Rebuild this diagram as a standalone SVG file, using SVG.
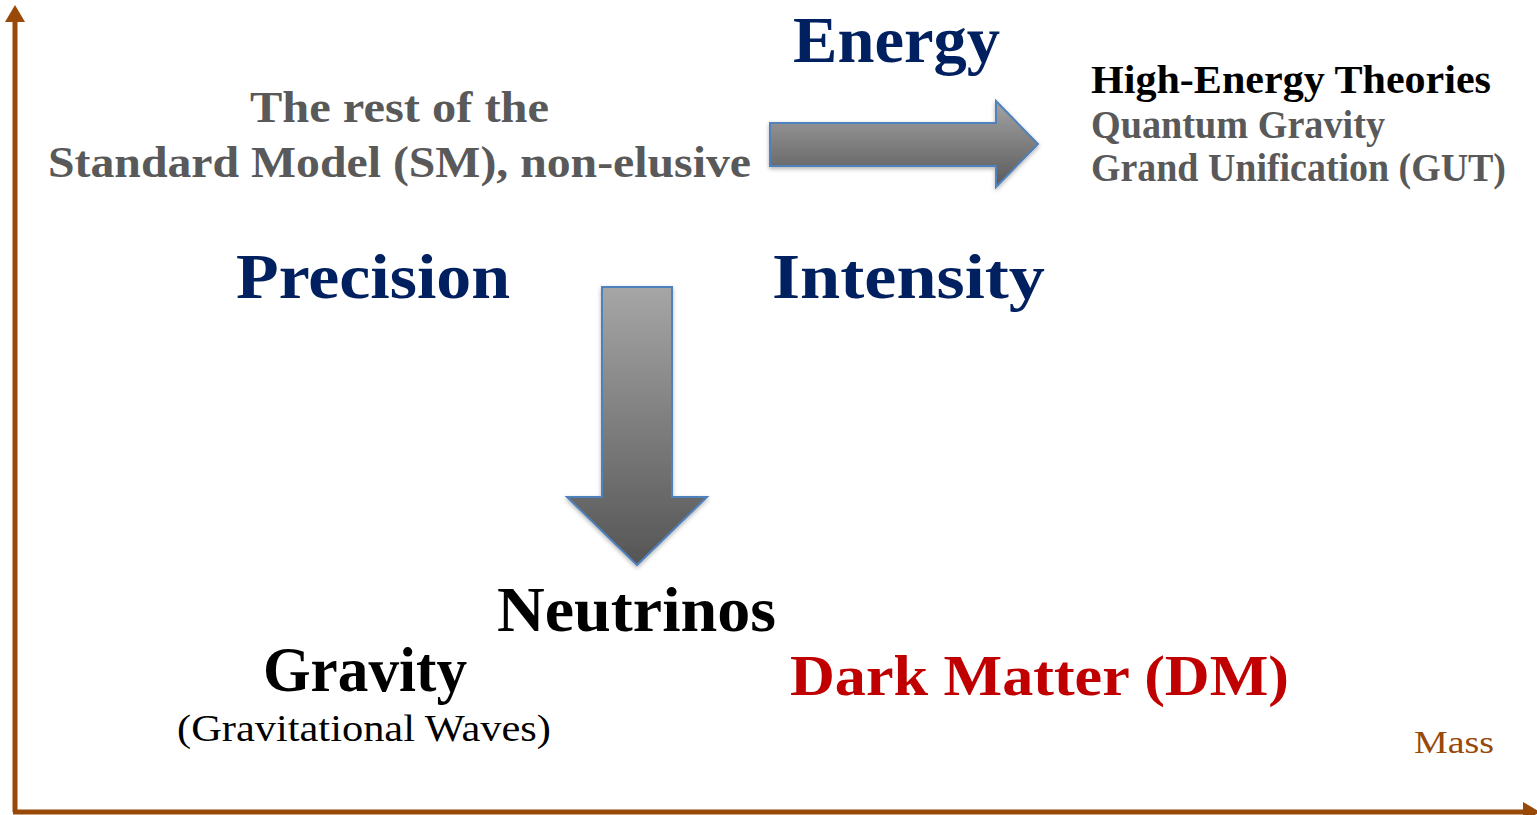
<svg xmlns="http://www.w3.org/2000/svg" width="1537" height="815" viewBox="0 0 1537 815">
  <style>
    .b { font-family: "Liberation Serif", "Times New Roman", serif; font-weight: bold; }
    .r { font-family: "Liberation Serif", "Times New Roman", serif; font-weight: normal; }
    .navy { fill: #002060; }
    .gray { fill: #595959; }
    .blk { fill: #000000; }
    .red { fill: #c00000; }
    .brown { fill: #984807; }
    .axis { stroke: #984807; stroke-width: 5; fill: none; }
    .bigarrow { stroke: #4f81bd; stroke-width: 2; filter: url(#shadow); }
  </style>
  <defs>
    <linearGradient id="gradR" x1="0" y1="0" x2="0" y2="1">
      <stop offset="0" stop-color="#a3a3a3"/>
      <stop offset="1" stop-color="#5a5a5a"/>
    </linearGradient>
    <linearGradient id="gradD" x1="0" y1="0" x2="0" y2="1">
      <stop offset="0" stop-color="#a6a6a6"/>
      <stop offset="1" stop-color="#555555"/>
    </linearGradient>
    <filter id="shadow" x="-20%" y="-20%" width="140%" height="140%">
      <feDropShadow dx="0" dy="2" stdDeviation="2" flood-color="#000" flood-opacity="0.3"/>
    </filter>
    <marker id="axhead" markerWidth="4" markerHeight="4" refX="0" refY="2" orient="auto" markerUnits="strokeWidth">
      <path d="M0,0 L3.4,2 L0,4 Z" fill="#984807"/>
    </marker>
  </defs>

  <g id="connectors">
    <line id="y-axis" class="axis" x1="15" y1="812" x2="15" y2="22" marker-end="url(#axhead)"/>
    <line id="x-axis" class="axis" x1="13" y1="812" x2="1523" y2="812" marker-end="url(#axhead)"/>
    <path id="arrow-right" class="bigarrow" fill="url(#gradR)" d="M770,123 L996,123 L996,101 L1038,144 L996,187 L996,166 L770,166 Z"/>
    <path id="arrow-down" class="bigarrow" fill="url(#gradD)" d="M602,287 L672,287 L672,497 L707,497 L637,565 L567,497 L602,497 Z"/>
  </g>

  <g id="node-energy">
    <text class="b navy" x="793" y="62" font-size="65" textLength="207" lengthAdjust="spacingAndGlyphs">Energy</text>
  </g>
  <g id="node-sm">
    <text class="b gray" x="250" y="122" font-size="45" textLength="299" lengthAdjust="spacingAndGlyphs">The rest of the</text>
    <text class="b gray" x="48" y="177" font-size="45" textLength="703" lengthAdjust="spacingAndGlyphs">Standard Model (SM), non-elusive</text>
  </g>
  <g id="node-high-energy">
    <text class="b blk" x="1091" y="93" font-size="41" textLength="400" lengthAdjust="spacingAndGlyphs">High-Energy Theories</text>
    <text class="b gray" x="1091" y="138" font-size="41" textLength="294" lengthAdjust="spacingAndGlyphs">Quantum Gravity</text>
    <text class="b gray" x="1091" y="181" font-size="40" textLength="415" lengthAdjust="spacingAndGlyphs">Grand Unification (GUT)</text>
  </g>
  <g id="node-precision">
    <text class="b navy" x="236" y="298" font-size="63" textLength="274" lengthAdjust="spacingAndGlyphs">Precision</text>
  </g>
  <g id="node-intensity">
    <text class="b navy" x="772" y="298" font-size="63" textLength="273" lengthAdjust="spacingAndGlyphs">Intensity</text>
  </g>
  <g id="node-neutrinos">
    <text class="b blk" x="497" y="631" font-size="63" textLength="279" lengthAdjust="spacingAndGlyphs">Neutrinos</text>
  </g>
  <g id="node-gravity">
    <text class="b blk" x="263" y="691" font-size="63" textLength="204" lengthAdjust="spacingAndGlyphs">Gravity</text>
    <text class="r blk" x="177" y="741" font-size="37" textLength="374" lengthAdjust="spacingAndGlyphs">(Gravitational Waves)</text>
  </g>
  <g id="node-dm">
    <text class="b red" x="790" y="695" font-size="58" textLength="499" lengthAdjust="spacingAndGlyphs">Dark Matter (DM)</text>
  </g>
  <g id="node-mass">
    <text class="r brown" x="1414" y="753" font-size="32" textLength="80" lengthAdjust="spacingAndGlyphs">Mass</text>
  </g>
</svg>
